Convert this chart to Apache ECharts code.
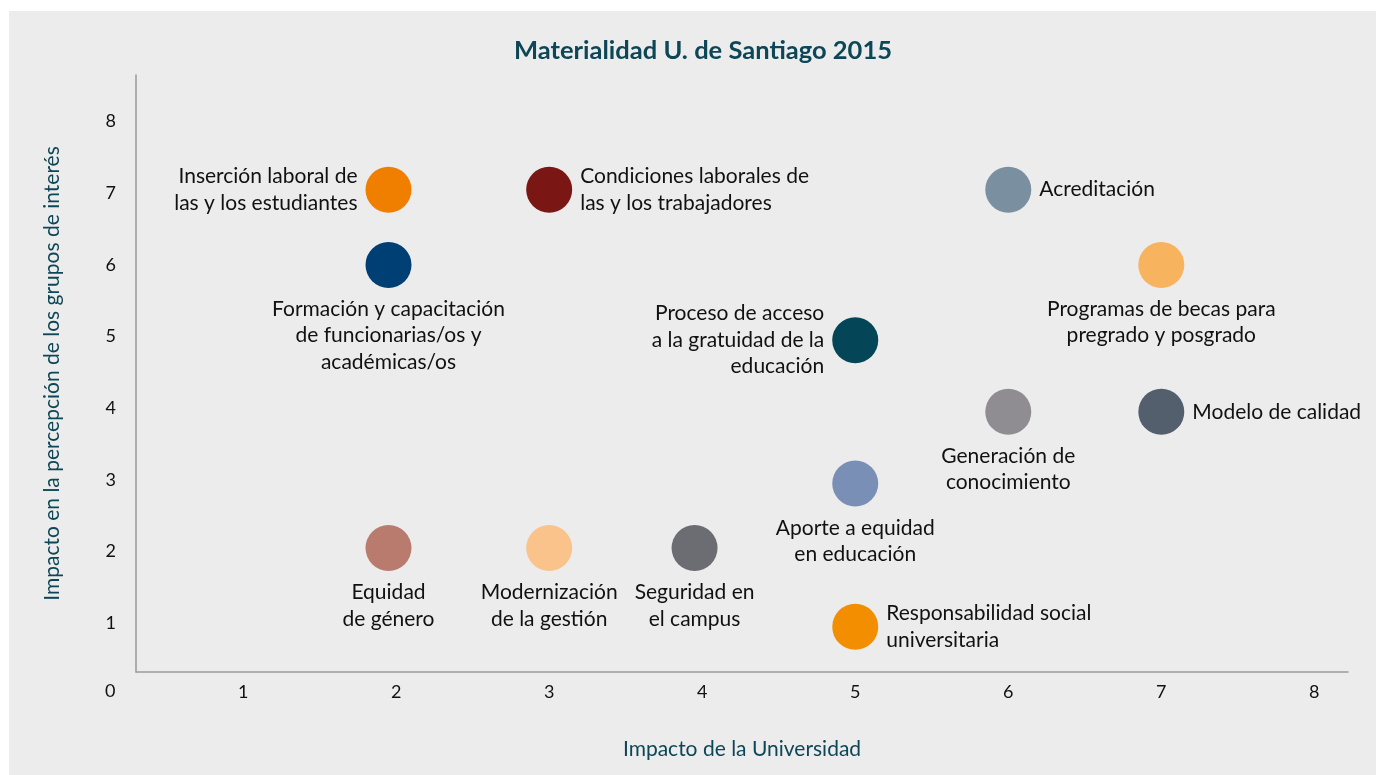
<!DOCTYPE html>
<html>
<head>
<meta charset="utf-8">
<title>Materialidad U. de Santiago 2015</title>
<script src="https://cdn.jsdelivr.net/npm/echarts@6/dist/echarts.min.js"></script>
<style>
  html, body { margin: 0; padding: 0; background: #ffffff; }
  #chart { position: absolute; left: 9px; top: 11px; width: 1367px; height: 764px; }
</style>
</head>
<body>
<div id="chart"></div>
<script>
// temas materiales
const temas = [
  'Inserción laboral de\nlas y los estudiantes',
  'Condiciones laborales de\nlas y los trabajadores',
  'Acreditación',
  'Formación y capacitación\nde funcionarias/os y\nacadémicas/os',
  'Programas de becas para\npregrado y posgrado',
  'Proceso de acceso\na la gratuidad de la\neducación',
  'Generación de\nconocimiento',
  'Modelo de calidad',
  'Aporte a equidad\nen educación',
  'Equidad\nde género',
  'Modernización\nde la gestión',
  'Seguridad en\nel campus',
  'Responsabilidad social\nuniversitaria'
];
// x: impacto de la universidad, y: impacto en grupos de interés
const impactoUniversidad = [1.95, 3, 6, 1.95, 7, 5, 6, 7, 5, 1.95, 3, 3.95, 5];
const impactoGrupos = [7.05, 7.05, 7.05, 6, 6, 4.95, 3.95, 3.95, 2.95, 2.05, 2.05, 2.05, 0.95];
const xTicks = [1, 2, 3, 4, 5, 6, 7, 8];
const yTicks = [1, 2, 3, 4, 5, 6, 7, 8];

const colores = [
  '#f07f00', '#7a1714', '#7a8fa0', '#003f74', '#f7b35e', '#044657', '#8f8c92',
  '#535f6c', '#7a8fb6', '#b87b6d', '#f9c38b', '#6c6d72', '#f28e00'
];
const posiciones = [
  'left', 'right', 'right', 'bottom', 'bottom', 'left', 'bottom',
  'right', 'bottom', 'bottom', 'bottom', 'bottom', 'right'
];

const FONT = 'Lato, "Open Sans", sans-serif';
const TEAL = '#0d4656';
const INK = '#111111';

const chart = echarts.init(document.getElementById('chart'));

const puntos = temas.map((t, i) => ({
  name: t,
  value: [impactoUniversidad[i], impactoGrupos[i]],
  itemStyle: { color: colores[i], opacity: 1 },
  label: { position: posiciones[i] }
}));

chart.setOption({
  backgroundColor: '#ececec',
  animation: false,
  title: {
    text: 'Materialidad U. de Santiago 2015',
    left: 689,
    textAlign: 'center',
    top: 22,
    textStyle: { fontFamily: FONT, fontWeight: 'bold', fontSize: 25.5, color: TEAL }
  },
  grid: { left: 127, right: 28, top: 64, bottom: 103 },
  xAxis: {
    type: 'value',
    min: 0.3,
    max: 8.22,
    name: 'Impacto de la Universidad',
    nameLocation: 'middle',
    nameGap: 67,
    nameTextStyle: { fontFamily: FONT, fontSize: 21, color: TEAL },
    axisLine: { show: true, lineStyle: { color: '#9a9a9a', width: 1.5 } },
    axisTick: { show: false },
    splitLine: { show: false },
    axisLabel: {
      customValues: xTicks,
      margin: 11,
      fontFamily: FONT,
      fontSize: 18,
      color: INK
    }
  },
  yAxis: {
    type: 'value',
    min: 0.32,
    max: 8.65,
    name: 'Impacto en la percepción de los grupos de interés',
    nameLocation: 'middle',
    nameGap: 73,
    nameTextStyle: { fontFamily: FONT, fontSize: 21, color: TEAL },
    axisLine: { show: true, lineStyle: { color: '#9a9a9a', width: 1.5 } },
    axisTick: { show: false },
    splitLine: { show: false },
    axisLabel: {
      customValues: yTicks,
      margin: 20,
      fontFamily: FONT,
      fontSize: 18,
      color: INK
    }
  },
  graphic: [{
    type: 'text',
    left: 96,
    top: 671,
    style: { text: '0', fontFamily: FONT, fontSize: 18, fill: INK }
  }],
  series: [{
    type: 'scatter',
    symbolSize: 46,
    data: puntos,
    label: {
      show: true,
      formatter: '{b}',
      distance: 8,
      fontFamily: FONT,
      fontSize: 21,
      lineHeight: 26.5,
      color: INK
    },
    emphasis: { disabled: true }
  }]
});
</script>
</body>
</html>
